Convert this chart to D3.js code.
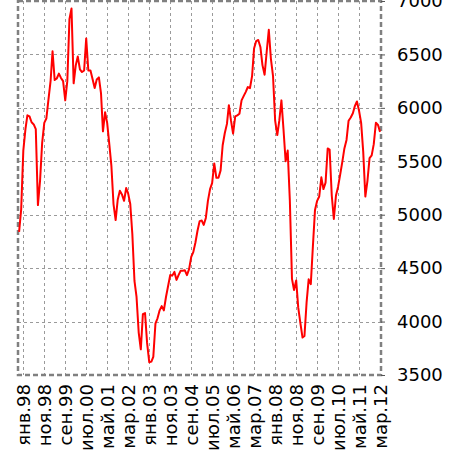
<!DOCTYPE html>
<html lang="ru">
<head>
<meta charset="UTF-8">
<title>Индекс</title>
<script src="https://cdnjs.cloudflare.com/ajax/libs/d3/7.8.5/d3.min.js"></script>
<style>
    body { margin: 0; background: #fff; }
    svg { display: block; font-family: "DejaVu Sans", sans-serif; }
</style>
</head>
<body>
<svg id="chart" width="460" height="459"></svg>
<script>
// monthly values, first month is Nov 1997
var firstMonth = "1997-11";
var values1997 = [4840, 5050];
var values1998 = [5600, 5800, 5930, 5920, 5865, 5845, 5800, 5090, 5320, 5670, 5860, 5900];
var values1999 = [6080, 6255, 6530, 6260, 6275, 6320, 6280, 6250, 6070, 6250, 6830, 6930];
var values2000 = [6230, 6400, 6480, 6360, 6335, 6350, 6650, 6350, 6350, 6270, 6185, 6265];
var values2001 = [6285, 6135, 5780, 5960, 5860, 5660, 5460, 5100, 4950, 5140, 5225, 5190];
var values2002 = [5130, 5250, 5200, 5100, 4820, 4380, 4230, 3900, 3740, 4070, 4080, 3800];
var values2003 = [3620, 3625, 3670, 3980, 4030, 4105, 4145, 4105, 4230, 4330, 4435, 4430];
var values2004 = [4465, 4390, 4435, 4475, 4475, 4480, 4435, 4490, 4605, 4650, 4740, 4850];
var values2005 = [4940, 4945, 4905, 4970, 5130, 5240, 5295, 5480, 5345, 5345, 5415, 5650];
var values2006 = [5765, 5850, 6025, 5880, 5760, 5920, 5930, 5945, 6070, 6110, 6150, 6195];
var values2007 = [6185, 6300, 6555, 6625, 6635, 6570, 6400, 6310, 6530, 6730, 6455, 6300];
var values2008 = [5880, 5745, 5880, 6070, 5800, 5500, 5600, 5135, 4400, 4295, 4385, 4130];
var values2009 = [3985, 3850, 3865, 4180, 4395, 4350, 4700, 5045, 5130, 5170, 5350, 5240];
var values2010 = [5300, 5620, 5610, 5180, 4960, 5180, 5260, 5375, 5495, 5620, 5700, 5880];
var values2011 = [5910, 5950, 6015, 6060, 5975, 5860, 5590, 5170, 5320, 5530, 5555, 5660];
var values2012 = [5860, 5840, 5775];

var tickMonths = ["1998-01", "1998-11", "1999-09", "2000-07", "2001-05", "2002-03",
    "2003-01", "2003-11", "2004-09", "2005-07", "2006-05", "2007-03",
    "2008-01", "2008-11", "2009-09", "2010-07", "2011-05", "2012-03"];
var tickLabels = ["янв.98", "ноя.98", "сен.99", "июл.00", "май.01", "мар.02",
    "янв.03", "ноя.03", "сен.04", "июл.05", "май.06", "мар.07",
    "янв.08", "ноя.08", "сен.09", "июл.10", "май.11", "мар.12"];
var yTicks = [3500, 4000, 4500, 5000, 5500, 6000, 6500, 7000];

var parseMonth = d3.timeParse("%Y-%m");

var allValues = [].concat(values1997, values1998, values1999, values2000, values2001,
    values2002, values2003, values2004, values2005, values2006, values2007,
    values2008, values2009, values2010, values2011, values2012);
var start = parseMonth(firstMonth);
var data = allValues.map(function(v, i) {
    return { date: d3.timeMonth.offset(start, i), value: v };
});
var tickDates = tickMonths.map(parseMonth);

var plotLeft = 18, plotRight = 381, plotTop = 1, plotBottom = 375;

var svg = d3.select("#chart");

var x = d3.scaleTime()
    .domain([new Date(1997, 9, 16), new Date(2012, 2, 15)])
    .range([plotLeft, plotRight]);
var y = d3.scaleLinear()
    .domain([3500, 7000])
    .range([plotBottom, plotTop]);

// grid
svg.append("g")
    .selectAll("line")
    .data(yTicks.slice(1, -1))
    .enter().append("line")
    .attr("x1", plotLeft).attr("x2", plotRight)
    .attr("y1", function(d) { return Math.round(y(d)) + 0.5; })
    .attr("y2", function(d) { return Math.round(y(d)) + 0.5; })
    .attr("stroke", "#9a9a9a")
    .attr("stroke-width", 1)
    .attr("stroke-dasharray", "3,3");

svg.append("g")
    .selectAll("line")
    .data(tickDates.slice(0, -1))
    .enter().append("line")
    .attr("x1", function(d) { return Math.round(x(d)) + 0.5; })
    .attr("x2", function(d) { return Math.round(x(d)) + 0.5; })
    .attr("y1", plotTop).attr("y2", plotBottom)
    .attr("stroke", "#9a9a9a")
    .attr("stroke-width", 1)
    .attr("stroke-dasharray", "3,3");

// frame
svg.append("rect")
    .attr("x", plotLeft).attr("y", plotTop)
    .attr("width", plotRight - plotLeft).attr("height", plotBottom - plotTop)
    .attr("fill", "none")
    .attr("stroke", "#808080")
    .attr("stroke-width", 2.5)
    .attr("stroke-dasharray", "5,3");

// data line
var line = d3.line()
    .x(function(d) { return x(d.date); })
    .y(function(d) { return y(d.value); });

svg.append("path")
    .datum(data)
    .attr("fill", "none")
    .attr("stroke", "#ff0000")
    .attr("stroke-width", 2)
    .attr("stroke-linejoin", "round")
    .attr("d", line);

// y axis on the right
var yAxis = svg.append("g")
    .attr("transform", "translate(" + plotRight + ",0)")
    .call(d3.axisRight(y).tickValues(yTicks).tickSize(4).tickPadding(12).tickFormat(d3.format("d")));
yAxis.select(".domain").remove();
yAxis.selectAll("line").attr("stroke", "#555");
yAxis.selectAll("text")
    .attr("fill", "#000")
    .style("font-size", "18px")
    .style("font-family", "DejaVu Sans");

// x axis labels
var xAxis = svg.append("g")
    .attr("transform", "translate(0," + plotBottom + ")")
    .call(d3.axisBottom(x).tickValues(tickDates).tickSize(0)
        .tickFormat(function(d, i) { return tickLabels[i]; }));
xAxis.select(".domain").remove();
xAxis.selectAll("text")
    .attr("fill", "#000")
    .style("font-size", "18px")
    .style("font-family", "DejaVu Sans")
    .attr("text-anchor", "end")
    .attr("transform", "rotate(-90)")
    .attr("x", -9)
    .attr("y", 0)
    .attr("dy", "0.35em");
</script>
</body>
</html>
